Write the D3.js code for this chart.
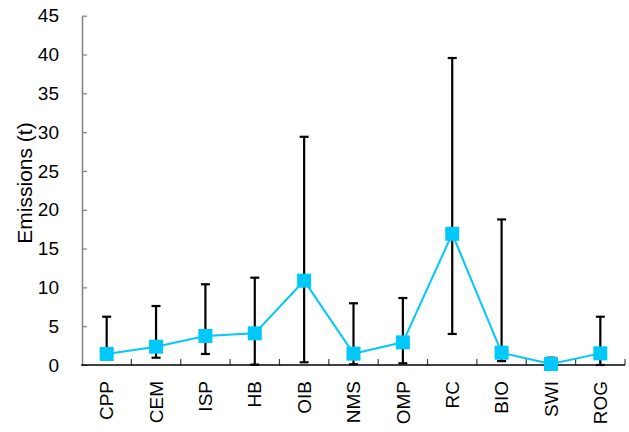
<!DOCTYPE html>
<html>
<head>
<meta charset="utf-8">
<script src="https://cdn.jsdelivr.net/npm/d3@7"></script>
<style>
    body { margin: 0; background: #fff; }
    svg { display: block; font-family: "Liberation Sans", Arial, sans-serif; }
</style>
</head>
<body>
<div id="chart"></div>
<script>
// emissions per sector, mean with error bar ends (t)
const categories = ['CPP', 'CEM', 'ISP', 'HB', 'OIB', 'NMS', 'OMP', 'RC', 'BIO', 'SWI', 'ROG'];
const meanValues = [1.42, 2.36, 3.74, 4.08, 10.86, 1.46, 2.92, 16.9, 1.58, 0.13, 1.5];
const upperValues = [6.22, 7.6, 10.4, 11.25, 29.4, 7.95, 8.63, 39.55, 18.75, 0.94, 6.22];
const lowerValues = [0.9, 0.94, 1.42, 0.05, 0.35, 0.1, 0.22, 4.0, 0.5, 0.0, 0.0];
const yTicks = [0, 5, 10, 15, 20, 25, 30, 35, 40, 45];

const W = 629;
const H = 432;
const plotLeft = 82, plotRight = 625, plotTop = 15.7, plotBottom = 365;
const blue = '#00c8fa';

const rows = categories.map(function (c, i) {
    return { cat: c, mean: meanValues[i], hi: upperValues[i], lo: lowerValues[i] };
});

const svg = d3.select('#chart').append('svg')
    .attr('width', W)
    .attr('height', H);

const x = d3.scaleBand().domain(categories).range([plotLeft, plotRight]);
const y = d3.scaleLinear().domain([0, 45]).range([plotBottom, plotTop]);
const cx = function (d) { return x(d.cat) + x.bandwidth() / 2; };

// y axis (ticks pointing inward)
const yAxis = svg.append('g')
    .attr('transform', 'translate(' + plotLeft + ',0)')
    .call(d3.axisLeft(y).tickValues(yTicks).tickSize(-5).tickPadding(23).tickSizeOuter(0));
yAxis.select('.domain').attr('stroke', '#808080').attr('stroke-width', 1.5);
yAxis.selectAll('.tick line').attr('stroke', '#808080').attr('stroke-width', 1.2);
yAxis.selectAll('.tick text')
    .attr('font-size', 19)
    .attr('fill', '#000')
    .attr('font-family', '"Liberation Sans", Arial, sans-serif');

// x axis: line + ticks at band boundaries
const xg = svg.append('g');
const boundaries = categories.map(function (c) { return x(c) + x.bandwidth(); });
xg.selectAll('line.xt')
    .data(boundaries)
    .enter().append('line')
    .attr('class', 'xt')
    .attr('x1', function (d) { return d; })
    .attr('x2', function (d) { return d; })
    .attr('y1', plotBottom)
    .attr('y2', plotBottom - 6)
    .attr('stroke', '#404040')
    .attr('stroke-width', 1.2);
xg.append('line')
    .attr('x1', plotLeft - 0.75).attr('x2', plotRight)
    .attr('y1', plotBottom).attr('y2', plotBottom)
    .attr('stroke', '#000')
    .attr('stroke-width', 1.5);

xg.selectAll('text')
    .data(categories)
    .enter().append('text')
    .attr('transform', function (d) {
        return 'translate(' + (x(d) + x.bandwidth() / 2) + ',' + (plotBottom + 16) + ') rotate(-90)';
    })
    .attr('dy', '0.35em')
    .attr('text-anchor', 'end')
    .attr('font-size', 19)
    .text(function (d) { return d; });

// y label
svg.append('text')
    .attr('transform', 'translate(32,183) rotate(-90)')
    .attr('text-anchor', 'middle')
    .attr('font-size', 21)
    .text('Emissions (t)');

// error bars
const eb = svg.append('g').attr('stroke', '#000').attr('stroke-width', 2.2);
eb.selectAll('line.v')
    .data(rows).enter().append('line')
    .attr('class', 'v')
    .attr('x1', cx).attr('x2', cx)
    .attr('y1', function (d) { return y(d.lo); })
    .attr('y2', function (d) { return y(d.hi); });
['hi', 'lo'].forEach(function (k) {
    eb.selectAll('line.c' + k)
        .data(rows).enter().append('line')
        .attr('class', 'c' + k)
        .attr('x1', function (d) { return cx(d) - 4.5; })
        .attr('x2', function (d) { return cx(d) + 4.5; })
        .attr('y1', function (d) { return y(d[k]); })
        .attr('y2', function (d) { return y(d[k]); });
});

// mean line
svg.append('path')
    .datum(rows)
    .attr('fill', 'none')
    .attr('stroke', blue)
    .attr('stroke-width', 2)
    .attr('d', d3.line().x(cx).y(function (d) { return y(d.mean); }));

// markers
svg.selectAll('rect.m')
    .data(rows).enter().append('rect')
    .attr('class', 'm')
    .attr('x', function (d) { return cx(d) - 7; })
    .attr('y', function (d) { return y(d.mean) - 7; })
    .attr('width', 14)
    .attr('height', 14)
    .attr('fill', blue);
</script>
</body>
</html>
